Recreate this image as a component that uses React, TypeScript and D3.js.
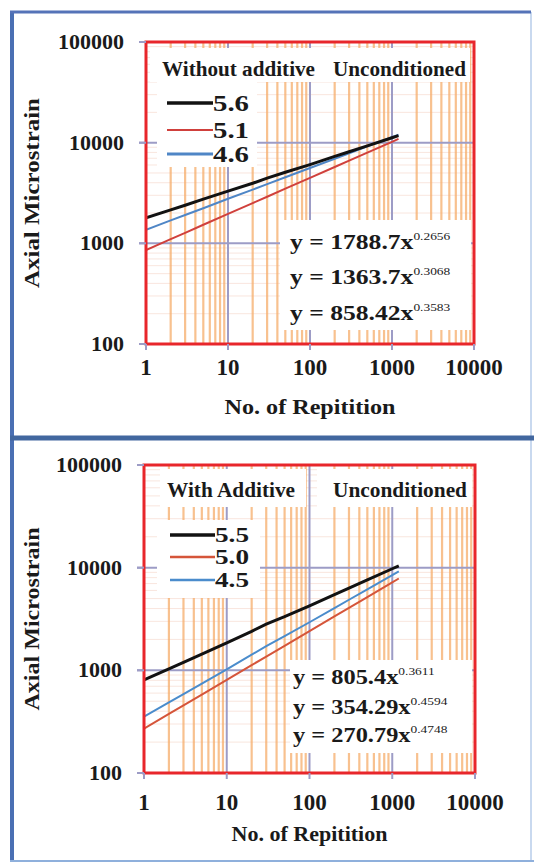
import React from "react";
import * as d3 from "d3";

// ---- data ----
const REPS = [1, 2, 3, 5, 10, 20, 30, 50, 100, 200, 300, 500, 1000, 1200];
const TOP_56 = [1790, 2150, 2390, 2750, 3300, 3950, 4450, 5080, 6060, 7300, 8120, 9300, 11200, 11750];
const TOP_51 = [858, 1100, 1270, 1530, 1960, 2510, 2900, 3490, 4470, 5730, 6620, 7960, 10200, 10890];
const TOP_46 = [1364, 1690, 1910, 2230, 2770, 3420, 3870, 4530, 5600, 6930, 7850, 9180, 11350, 12000];
const BOT_55 = [805, 1034, 1197, 1440, 1850, 2400, 2820, 3330, 4250, 5450, 6320, 7600, 9760, 10420];
const BOT_50 = [271, 376, 456, 581, 808, 1123, 1361, 1735, 2411, 3352, 4063, 5177, 7195, 7845];
const BOT_45 = [354, 487, 587, 742, 1020, 1420, 1720, 2150, 2940, 4040, 4870, 6150, 8460, 9200];
const TOP_LABELS = ["5.6", "5.1", "4.6"];
const BOT_LABELS = ["5.5", "5.0", "4.5"];
const TOP_EQ = [["y = 1788.7x", "0.2656"], ["y = 1363.7x", "0.3068"], ["y = 858.42x", "0.3583"]];
const BOT_EQ = [["y = 805.4x", "0.3611"], ["y = 354.29x", "0.4594"], ["y = 270.79x", "0.4748"]];
const X_TICKS = [1, 10, 100, 1000, 10000];
const Y_TICKS = [100, 1000, 10000, 100000];

const FONT = '"Liberation Serif", "Times New Roman", serif';
const INK = "#1a1a1a";
const BLACK = "#121212";
const TOP_COLORS = [BLACK, "#d0403c", "#4f86c6"];
const BOT_COLORS = [BLACK, "#d5553a", "#4a8ccc"];

const PANELS = [
  {
    frameY: 12, frameH: 426,
    plot: { l: 146, r: 474, t: 42, b: 344 },
    titleBoxes: [{ x: 150, y: 48, w: 320, h: 34 }],
    legendBox: { x: 157, y: 82, w: 100, h: 85 },
    eqBox: { x: 280, y: 220, w: 191, h: 110 },
    titleY: 76, titleL: "Without additive", titleLX: 162, titleLW: 153,
    titleR: "Unconditioned", titleRX: 333, titleRW: 133,
    rows: [103, 130, 154], legX1: 167, legX2: 213, legFs: 23, legW: 36,
    labels: TOP_LABELS, colors: TOP_COLORS, widths: [3.5, 2, 3],
    series: [TOP_56, TOP_51, TOP_46], eq: TOP_EQ, eqX: 290, eqY: [249, 284, 320], eqFs: 21,
    xLabelY: 375, xTitleY: 414, xTitleW: 171, yTitleW: 190,
  },
  {
    frameY: 438, frameH: 423,
    plot: { l: 144, r: 475, t: 465, b: 773 },
    titleBoxes: [{ x: 160, y: 469, w: 146, h: 38 }, { x: 317, y: 469, w: 155, h: 38 }],
    legendBox: { x: 157, y: 520, w: 103, h: 78 },
    eqBox: { x: 290, y: 660, w: 182, h: 93 },
    titleY: 497, titleL: "With Additive", titleLX: 167, titleLW: 128,
    titleR: "Unconditioned", titleRX: 333, titleRW: 134,
    rows: [535, 557, 580], legX1: 170, legX2: 215, legFs: 20, legW: 34,
    labels: BOT_LABELS, colors: BOT_COLORS, widths: [3.5, 2.5, 2.5],
    series: [BOT_55, BOT_50, BOT_45], eq: BOT_EQ, eqX: 293, eqY: [684, 714, 742], eqFs: 20,
    xLabelY: 810, xTitleY: 841, xTitleW: 156, yTitleW: 183,
  },
];

function Panel({ p, idx }: { p: any; idx: number }) {
  const { l, r, t, b } = p.plot;
  const x = d3.scaleLog().domain([1, 10000]).range([l, r]);
  const y = d3.scaleLog().domain([100, 100000]).range([b, t]);
  const minorX: number[] = [];
  const minorY: number[] = [];
  for (let d = 0; d < 4; d++) for (let m = 2; m <= 9; m++) minorX.push(m * Math.pow(10, d));
  for (let d = 2; d < 5; d++) for (let m = 2; m <= 9; m++) minorY.push(m * Math.pow(10, d));
  const line = d3
    .line<[number, number]>()
    .x((d) => x(d[0]))
    .y((d) => y(d[1]));
  const clipId = `clip${idx}`;
  const midY = (t + b) / 2;
  const drawOrder = [1, 2, 0];
  return (
    <g>
      <defs>
        <clipPath id={clipId}>
          <rect x={l} y={t} width={r - l} height={b - t} />
        </clipPath>
      </defs>
      {/* minor horizontal grid */}
      {minorY.map((v) => (
        <line key={"hy" + v} x1={l} x2={r} y1={y(v)} y2={y(v)} stroke="#f3c9b8" strokeWidth={1} opacity={0.45} />
      ))}
      {/* minor vertical grid */}
      {minorX.map((v) => (
        <line key={"vx" + v} x1={x(v)} x2={x(v)} y1={t} y2={b} stroke="#f6ad6a" strokeWidth={2.2} opacity={0.75} />
      ))}
      {/* major grid */}
      {[10, 100, 1000].map((v) => (
        <line key={"mx" + v} x1={x(v)} x2={x(v)} y1={t} y2={b} stroke="#9d9cc6" strokeWidth={2} />
      ))}
      {[1000, 10000].map((v) => (
        <line key={"my" + v} x1={l - 7} x2={r} y1={y(v)} y2={y(v)} stroke="#9d9cc6" strokeWidth={2} />
      ))}
      {/* white boxes */}
      {p.titleBoxes.map((bx: any, i: number) => (
        <rect key={"tb" + i} x={bx.x} y={bx.y} width={bx.w} height={bx.h} fill="#ffffff" />
      ))}
      <rect x={p.legendBox.x} y={p.legendBox.y} width={p.legendBox.w} height={p.legendBox.h} fill="#ffffff" />
      <rect x={p.eqBox.x} y={p.eqBox.y} width={p.eqBox.w} height={p.eqBox.h} fill="#ffffff" />
      {/* series */}
      <g clipPath={`url(#${clipId})`}>
        {drawOrder.map((si) => (
          <path
            key={"s" + si}
            d={line(REPS.map((rp, i) => [rp, p.series[si][i]]) as [number, number][]) || ""}
            fill="none"
            stroke={p.colors[si]}
            strokeWidth={si === 0 ? 3 : 2}
          />
        ))}
      </g>
      {/* plot frame */}
      <rect x={l} y={t} width={r - l} height={b - t} fill="none" stroke="#e8262b" strokeWidth={3} />
      {/* ticks */}
      {Y_TICKS.map((v) => (
        <line key={"yt" + v} x1={l - 7} x2={l} y1={y(v)} y2={y(v)} stroke="#9d9cc6" strokeWidth={2} />
      ))}
      {X_TICKS.map((v) => (
        <line key={"xt" + v} x1={x(v)} x2={x(v)} y1={b} y2={b + 6} stroke="#9d9cc6" strokeWidth={2} />
      ))}
      {/* tick labels */}
      {Y_TICKS.map((v) => (
        <text key={"yl" + v} x={l - 22} y={y(v) + 7} textAnchor="end" fontFamily={FONT} fontWeight="bold" fontSize={22} fill={INK}>
          {v}
        </text>
      ))}
      {X_TICKS.map((v) => (
        <text key={"xl" + v} x={x(v)} y={p.xLabelY} textAnchor="middle" fontFamily={FONT} fontWeight="bold" fontSize={23} fill={INK}>
          {v}
        </text>
      ))}
      {/* axis titles */}
      <text
        x={(l + r) / 2 - p.xTitleW / 2}
        y={p.xTitleY}
        textLength={p.xTitleW}
        lengthAdjust="spacingAndGlyphs"
        fontFamily={FONT}
        fontWeight="bold"
        fontSize={21}
        fill={INK}
      >
        No. of Repitition
      </text>
      <text
        transform={`translate(39,${midY + p.yTitleW / 2}) rotate(-90)`}
        textLength={p.yTitleW}
        lengthAdjust="spacingAndGlyphs"
        fontFamily={FONT}
        fontWeight="bold"
        fontSize={21}
        fill={INK}
      >
        Axial Microstrain
      </text>
      {/* legend titles */}
      <text x={p.titleLX} y={p.titleY} textLength={p.titleLW} lengthAdjust="spacingAndGlyphs" fontFamily={FONT} fontWeight="bold" fontSize={20} fill={INK}>
        {p.titleL}
      </text>
      <text x={p.titleRX} y={p.titleY} textLength={p.titleRW} lengthAdjust="spacingAndGlyphs" fontFamily={FONT} fontWeight="bold" fontSize={20} fill={INK}>
        {p.titleR}
      </text>
      {/* legend entries */}
      {p.labels.map((lb: string, i: number) => (
        <g key={"lg" + i}>
          <line x1={p.legX1} x2={p.legX2} y1={p.rows[i]} y2={p.rows[i]} stroke={p.colors[i]} strokeWidth={p.widths[i]} />
          <text
            x={p.legX2}
            y={p.rows[i] + (p.legFs * 0.33)}
            textLength={p.legW}
            lengthAdjust="spacingAndGlyphs"
            fontFamily={FONT}
            fontWeight="bold"
            fontSize={p.legFs}
            fill={INK}
          >
            {lb}
          </text>
        </g>
      ))}
      {/* equations */}
      {p.eq.map((e: string[], i: number) => (
        <g key={"eq" + i} transform={`translate(${p.eqX},${p.eqY[i]}) scale(1.22,1)`}>
          <text x={0} y={0} fontFamily={FONT} fontWeight="bold" fontSize={p.eqFs} fill={INK}>
            {e[0]}
            <tspan dy={-9} fontSize={11} fontWeight="normal">
              {e[1]}
            </tspan>
          </text>
        </g>
      ))}
      {/* panel frame */}
      <line x1={12} x2={12} y1={p.frameY} y2={p.frameY + p.frameH} stroke="#4a6fb3" strokeWidth={4} />
      <line x1={531} x2={531} y1={p.frameY} y2={p.frameY + p.frameH} stroke="#c9d9ef" strokeWidth={2} />
    </g>
  );
}

export default function App() {
  return (
    <svg
      width={534}
      height={863}
      viewBox="0 0 534 863"
      style={{ position: "absolute", left: 0, top: 0, background: "#ffffff" }}
    >
      <rect x={0} y={0} width={534} height={863} fill="#ffffff" />
      {PANELS.map((p, i) => (
        <Panel key={i} p={p} idx={i} />
      ))}
      <line x1={10} x2={531} y1={12} y2={12} stroke="#5573b8" strokeWidth={3} />
      <line x1={10} x2={534} y1={438} y2={438} stroke="#42679f" strokeWidth={5} />
      <line x1={10} x2={534} y1={861} y2={861} stroke="#8fb0dc" strokeWidth={2} />
    </svg>
  );
}
